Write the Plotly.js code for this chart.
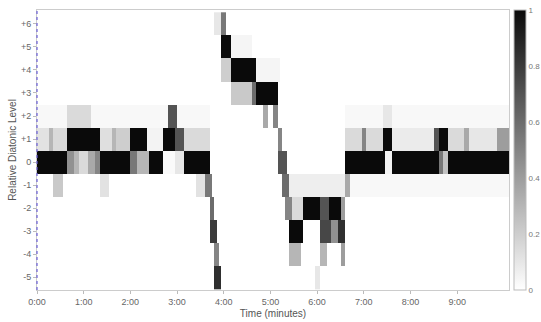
<!DOCTYPE html>
<html>
<head>
<meta charset="utf-8">
<script src="https://cdn.plot.ly/plotly-3.0.1.min.js"></script>
<style>html,body{margin:0;padding:0;background:#fff;}#chart{width:541px;height:322px;}</style>
</head>
<body>
<div id="chart"></div>
<script>
// Time axis (minutes)
const duration = 10.11;
const timeStep = 0.05;
const xTickVals = [0,1,2,3,4,5,6,7,8,9];
const xTickText = ['0:00','1:00','2:00','3:00','4:00','5:00','6:00','7:00','8:00','9:00'];
const levels = [-5,-4,-3,-2,-1,0,1,2,3,4,5,6];
const yTickText = ['-5','-4','-3','-2','-1','0','+1','+2','+3','+4','+5','+6'];

// Probability runs per level: [start minute, end minute, probability]
const runsP6 = [[3.82,3.93,0.1],[3.93,4.03,0.55]];
const runsP5 = [[3.93,4.14,1.0],[4.14,4.6,0.04]];
const runsP4 = [[3.93,4.14,0.2],[4.14,4.68,1.0],[4.68,5.2,0.04]];
const runsP3 = [[4.14,4.61,0.22],[4.61,4.72,0.6],[4.72,5.15,1.0]];
const runsP2 = [[0.0,0.67,0.03],[0.67,1.14,0.15],[1.14,2.81,0.03],[2.81,3.0,0.7],[3.0,3.7,0.03],[4.83,4.94,0.35],[5.04,5.17,0.5],[6.6,7.4,0.03],[7.40,7.62,0.1],[7.62,10.2,0.03]];
const runsP1 = [[0,0.24,0.12],[0.24,0.35,0.3],[0.35,0.67,0.15],[0.67,1.35,1.0],[1.35,1.61,0.13],[1.61,1.70,0.3],[1.70,2.02,0.2],[2.02,2.36,1.0],[2.36,2.70,0.05],[2.70,2.96,1.0],[2.96,3.13,0.7],[3.13,3.71,0.15],[5.15,5.26,0.5],[6.61,6.93,0.15],[6.93,7.04,0.5],[7.04,7.40,0.15],[7.40,7.62,1.0],[7.62,8.50,0.08],[8.50,8.62,0.7],[8.62,8.82,1.0],[8.82,9.14,0.15],[9.14,9.25,0.35],[9.25,9.85,0.1],[9.85,10.2,0.4]];
const runs0 = [[0,0.67,1.0],[0.67,0.78,0.45],[0.78,0.89,0.3],[0.89,1.10,0.15],[1.10,1.24,0.35],[1.24,1.35,0.5],[1.35,2.0,1.0],[2.0,2.13,0.55],[2.13,2.38,0.3],[2.38,2.70,1.0],[2.70,2.96,0.02],[2.96,3.13,0.1],[3.13,3.69,1.0],[5.15,5.36,0.7],[6.61,7.47,1.0],[7.47,7.58,0.05],[7.58,8.60,1.0],[8.60,8.71,0.55],[8.71,8.82,0.25],[8.82,10.2,1.0]];
const runsM1 = [[0.34,0.54,0.22],[1.37,1.57,0.12],[3.39,3.6,0.12],[3.6,3.76,0.55],[5.26,5.39,0.6],[5.39,6.61,0.07],[6.61,6.72,0.35],[6.72,10.2,0.03]];
const runsM2 = [[3.71,3.82,0.6],[5.28,5.43,0.5],[5.43,5.71,0.15],[5.71,6.03,1.0],[6.03,6.26,0.7],[6.26,6.5,1.0],[6.5,6.61,0.4]];
const runsM3 = [[3.71,3.86,0.8],[5.39,5.71,1.0],[6.03,6.30,0.75],[6.30,6.46,0.45],[6.46,6.61,0.85]];
const runsM4 = [[3.78,3.88,0.5],[5.39,5.64,0.3],[6.03,6.18,0.3],[6.5,6.61,0.4]];
const runsM5 = [[3.82,3.93,0.85],[5.97,6.07,0.1]];

const runsByLevel = [runsM5,runsM4,runsM3,runsM2,runsM1,runs0,runsP1,runsP2,runsP3,runsP4,runsP5,runsP6];

// Build the grid
const nCols = Math.ceil(duration / timeStep);
const xCenters = [];
for (let i = 0; i < nCols; i++) xCenters.push((i + 0.5) * timeStep);
const z = runsByLevel.map(runs => xCenters.map(t => {
  let v = 0;
  runs.forEach(r => { if (t >= r[0] && t < r[1]) v = r[2]; });
  return v;
}));

const font = {family: 'Liberation Sans, Arial, sans-serif', color: '#666', size: 9};

Plotly.newPlot('chart', [{
  type: 'heatmap',
  x: xCenters,
  y: levels,
  z: z,
  zmin: 0, zmax: 1,
  colorscale: [[0,'#ffffff'],[1,'#0a0a0a']],
  zsmooth: false,
  colorbar: {
    x: 1.01, xanchor: 'left', xpad: 0,
    y: 0.5, yanchor: 'middle', len: 1, lenmode: 'fraction', ypad: 0,
    thickness: 12,
    outlinewidth: 1, outlinecolor: '#bbb',
    tickvals: [0,0.2,0.4,0.6,0.8,1],
    ticktext: ['0','0.2','0.4','0.6','0.8','1'],
    ticks: '', tickfont: {family: font.family, size: 8, color: '#777'}
  },
  hoverinfo: 'skip'
}], {
  width: 541, height: 322,
  margin: {l: 37, r: 32, t: 10, b: 32, autoexpand: false},
  paper_bgcolor: '#fff', plot_bgcolor: '#fff',
  font: font,
  xaxis: {
    range: [0, duration], tickvals: xTickVals, ticktext: xTickText,
    showgrid: false, zeroline: false, showline: true, mirror: true, linecolor: '#ccc', linewidth: 1,
    ticks: 'outside', ticklen: 3, tickcolor: '#bbb', tickfont: font,
    title: {text: 'Time (minutes)', font: {family: font.family, size: 10, color: '#555'}, standoff: 4}
  },
  yaxis: {
    range: [-5.55, 6.6], tickvals: levels, ticktext: yTickText,
    showgrid: false, zeroline: false, showline: true, mirror: true, linecolor: '#ccc', linewidth: 1,
    ticks: 'outside', ticklen: 3, tickcolor: '#bbb', tickfont: font,
    title: {text: 'Relative Diatonic Level', font: {family: font.family, size: 10, color: '#555'}, standoff: 2}
  },
  shapes: [{type: 'line', xref: 'paper', yref: 'paper', x0: 0, x1: 0, y0: 0, y1: 1,
    line: {color: '#6b5fd6', width: 1.2, dash: 'dot'}}],
  showlegend: false
}, {displayModeBar: false, staticPlot: true});
</script>
</body>
</html>
